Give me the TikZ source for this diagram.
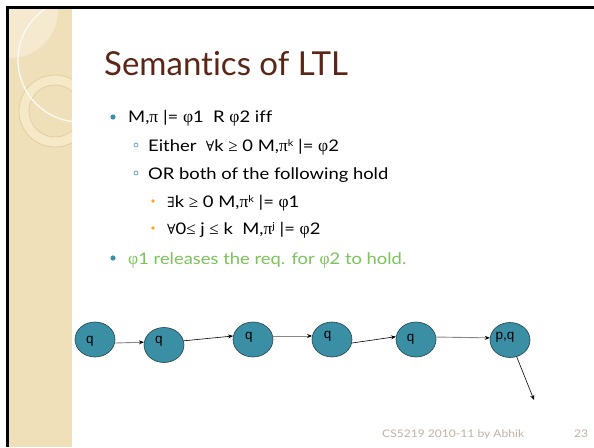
\documentclass[tikz,border=0pt]{standalone}
\usepackage{fontspec}
\setmainfont{Lato}[Ligatures=NoCommon]
\newfontfamily\bodyfont{Lato}[Ligatures=NoCommon, FakeStretch=1.15]
\newfontfamily\symfont{Liberation Serif}
\newfontfamily\logicfont{DejaVu Serif}
\newfontfamily\labelfont{Liberation Sans}
\usetikzlibrary{shapes.geometric,arrows.meta}

\definecolor{panel}{RGB}{240,224,186}
\definecolor{panellight}{RGB}{245,234,208}
\definecolor{ringfill}{RGB}{246,233,200}
\definecolor{ringedge}{RGB}{226,205,160}
\definecolor{titlebrown}{RGB}{92,38,22}
\definecolor{teal}{RGB}{58,143,165}
\definecolor{tealedge}{RGB}{36,68,78}
\definecolor{subbullet}{RGB}{245,168,40}
\definecolor{remark}{RGB}{122,196,88}
\definecolor{footer}{RGB}{190,178,166}
\definecolor{lightcon}{RGB}{136,136,136}

% Greek letters and logic symbols in a serif face
\newcommand{\gph}{{\symfont\fontsize{17.5}{17.5}\selectfont φ}}
\newcommand{\gpi}{{\symfont\fontsize{17.5}{17.5}\selectfont π}}
\newcommand{\lall}{{\logicfont\fontsize{14}{14}\selectfont ∀}}
\newcommand{\lex}{{\logicfont\fontsize{14}{14}\selectfont ∃}}
\newcommand{\lge}{{\symfont\fontsize{17}{17}\selectfont ≥}}
\newcommand{\lle}{{\symfont\fontsize{17}{17}\selectfont ≤}}
\newcommand{\up}[1]{\raisebox{0.6ex}{\fontsize{9.5}{9.5}\selectfont #1}}
% state label: text, vertical shift, twice the leftward shift
\newcommand{\slabel}[3]{\makebox[0pt]{\raisebox{#2}[0pt][0pt]{#1}\hspace*{#3}}}

\tikzset{
  state/.style={ellipse, draw=tealedge, fill=teal, line width=0.6pt,
    minimum width=40pt, minimum height=35pt, inner sep=0pt,
    font=\labelfont\fontsize{13.5}{13.5}\selectfont},
  greycon/.style={draw=lightcon, line width=0.9pt, -{Stealth[length=5pt,width=4pt,fill=black,color=black]}},
  darkcon/.style={draw=black, line width=0.6pt, -{Stealth[length=5pt,width=4pt]}},
  body/.style={anchor=base west, inner sep=0pt, font=\bodyfont\fontsize{16}{16}\selectfont},
  dotbullet/.style={fill=teal, draw=none},
  ringbullet/.style={draw=teal, line width=0.6pt, fill=white},
  smallbullet/.style={fill=subbullet, draw=none},
  foottext/.style={anchor=base west, inner sep=0pt, text=footer, font=\bodyfont\fontsize{10.5}{10.5}\selectfont}
}

\begin{document}
\begin{tikzpicture}[x=1pt,y=-1pt]
\useasboundingbox (0,0) rectangle (594,447);
\fill[white] (0,0) rectangle (594,447);

% decorative side panel
\fill[panel] (8,8) rectangle (72,447);
\begin{scope}
  \clip (8,8) rectangle (72,447);
  \fill[panellight] (10,10) circle (48);
  \fill[ringfill, even odd rule] (55,111) circle (36) (55,111) circle (26);
  \draw[ringedge, line width=0.8pt] (55,111) circle (36) (55,111) circle (26);
  \draw[white!85!panel, line width=1.3pt] (80,60) circle (62);
\end{scope}

% slide frame
\draw[black, line width=2.2pt] (7.5,447) -- (7.5,7.5) -- (594,7.5);

% title
\node[anchor=base west, inner sep=0pt, text=titlebrown, font=\fontsize{33}{33}\selectfont]
  (title) at (104,75) {Semantics of LTL};

% bullets
\fill[dotbullet] (113,117) circle (2.6);
\node[body] (l1) at (128,122) {M,\gpi{} |= \gph1 \ R \gph2 iff};
\draw[ringbullet] (136,145) circle (2);
\node[body] (l2) at (148,151) {Either \ \lall k \lge{} 0 M,\gpi\up{k} |= \gph2};
\draw[ringbullet] (136,173) circle (2);
\node[body] (l3) at (148,179) {OR both of the following hold};
\fill[smallbullet] (153,201) circle (1.8);
\node[body] (l4) at (167,207) {\lex k \lge{} 0 M,\gpi\up{k} |= \gph1};
\fill[smallbullet] (153,228) circle (1.8);
\node[body] (l5) at (167,234) {\lall 0\lle{} j \lle{} k \ M,\gpi\up{j} |= \gph2};
\fill[dotbullet] (113,258) circle (2.6);
\node[body, text=remark] (l6) at (128,264) {\gph1 releases the req. for \gph2 to hold.};

% run of the model
\node[state] (s1) at (95,339.5) {\slabel{q}{-3.6pt}{10pt}};
\node[state] (s2) at (164,345) {\slabel{q}{1.4pt}{10pt}};
\node[state] (s3) at (253,339.5) {\slabel{q}{0pt}{8pt}};
\node[state] (s4) at (332,339.5) {\slabel{q}{0.9pt}{9pt}};
\node[state] (s5) at (416,339.5) {\slabel{q}{-1.6pt}{11pt}};
\node[state] (s6) at (510,340) {\slabel{p,q}{0.9pt}{10pt}};
\coordinate (tail) at (534,400);

\draw[greycon] (s1.-10) -- (s2.172);
\draw[darkcon] (s2.12) -- (s3.170);
\draw[greycon] (s3.10) -- (s4.170);
\draw[darkcon] (s4.-10) -- (s5.172);
\draw[greycon] (s5.7) -- (s6.174);
\draw[darkcon] (s6) -- (tail);

% footer
\node[foottext] (foot) at (382,437) {CS5219 2010-11 by Abhik};
\node[foottext] (page) at (574,437) {23};
\end{tikzpicture}
\end{document}
